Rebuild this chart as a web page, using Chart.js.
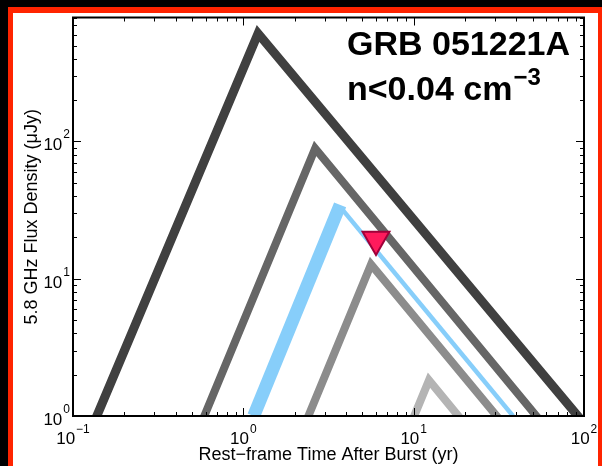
<!DOCTYPE html>
<html><head><meta charset="utf-8">
<script src="https://cdn.jsdelivr.net/npm/chart.js@4"></script>
<style>html,body{margin:0;padding:0;background:#000;}canvas{display:block;}</style>
</head><body>
<canvas id="c" width="602" height="466"></canvas>
<script>
// Model light curves (rest-frame time in yr, flux density in uJy)
const darkTime = [0.138, 1.22, 92];
const darkFlux = [1, 612, 1];
const midTime = [0.59, 2.64, 52.5];
const midFlux = [1, 89, 1];
const blueRiseTime = [1.15, 3.70];
const blueRiseFlux = [1, 34.5];
const blueDecayTime = [3.85, 38.3];
const blueDecayFlux = [31.5, 1];
const grayTime = [2.41, 5.62, 30.7];
const grayFlux = [1, 12.7, 1];
const lightTime = [10.07, 12.3, 18.3];
const lightFlux = [1, 1.82, 1];
// Upper limit
const limitTime = [6.01];
const limitFlux = [19.3];
// Axis ticks
const xTickValues = [0.1, 1, 10, 100];
const xTickExponents = ['\u22121', '0', '1', '2'];
const yTickValues = [1, 10, 100];
const yTickExponents = ['0', '1', '2'];
const titleLine1 = 'GRB 051221A';
const titleLine2 = 'n<0.04 cm';
const titleSup = '\u22123';
const xTitle = 'Rest\u2212frame Time After Burst (yr)';
const yTitle = '5.8 GHz Flux Density (\u03bcJy)';

const pts = (t, f) => t.map((v, i) => ({x: v, y: f[i]}));
const lineDs = (t, f, color, w, cap) => ({
  data: pts(t, f), showLine: true, borderColor: color, backgroundColor: color,
  borderWidth: w, pointRadius: 0, borderCapStyle: cap || 'square',
  borderJoinStyle: 'miter', clip: 0, tension: 0
});

const FONT = '"Liberation Sans", Arial, Helvetica, sans-serif';

const decor = {
  id: 'decor',
  beforeDraw(chart) {
    const ctx = chart.ctx;
    ctx.save();
    ctx.fillStyle = '#000';
    ctx.fillRect(0, 0, chart.width, chart.height);
    ctx.fillStyle = '#ff2400';
    ctx.fillRect(8, 7, chart.width - 8, chart.height - 7);
    ctx.fillStyle = '#fff';
    ctx.fillRect(13, 13, chart.width - 13 - 4, chart.height - 13);
    ctx.restore();
  },
  afterDatasetsDraw(chart) {
    const ctx = chart.ctx, a = chart.chartArea;
    const xs = chart.scales.x, ys = chart.scales.y;
    ctx.save();
    ctx.strokeStyle = '#000';
    ctx.lineWidth = 1;
    for (let d = -1; d <= 2; d++) {
      for (let m = 1; m <= 9; m++) {
        const v = m * Math.pow(10, d);
        const major = m === 1;
        const len = major ? 8 : 4;
        if (v >= 0.1 && v <= 100) {
          const px = Math.round(xs.getPixelForValue(v)) + 0.5;
          ctx.beginPath();
          ctx.moveTo(px, a.bottom); ctx.lineTo(px, a.bottom - len);
          ctx.moveTo(px, a.top); ctx.lineTo(px, a.top + len);
          ctx.stroke();
        }
        if (v >= 1 && v <= 800) {
          const py = Math.round(ys.getPixelForValue(v)) + 0.5;
          ctx.beginPath();
          ctx.moveTo(a.left, py); ctx.lineTo(a.left + len, py);
          ctx.moveTo(a.right, py); ctx.lineTo(a.right - len, py);
          ctx.stroke();
        }
      }
    }
    ctx.lineWidth = 2;
    ctx.strokeRect(a.left, a.top, a.right - a.left, a.bottom - a.top);
    ctx.restore();
  },
  afterDraw(chart) {
    const ctx = chart.ctx, a = chart.chartArea;
    const xs = chart.scales.x, ys = chart.scales.y;
    ctx.save();
    ctx.fillStyle = '#000';
    xTickValues.forEach((v, i) => {
      const px = xs.getPixelForValue(v);
      ctx.font = '17px ' + FONT;
      const w1 = ctx.measureText('10').width;
      ctx.font = '12px ' + FONT;
      const w2 = ctx.measureText(xTickExponents[i]).width;
      const x0 = px - (w1 + 1 + w2) / 2;
      ctx.textAlign = 'left'; ctx.textBaseline = 'alphabetic';
      ctx.font = '17px ' + FONT;
      ctx.fillText('10', x0, 444);
      ctx.font = '12px ' + FONT;
      ctx.fillText(xTickExponents[i], x0 + w1 + 1, 433);
    });
    yTickValues.forEach((v, i) => {
      const py = ys.getPixelForValue(v);
      ctx.font = '12px ' + FONT;
      const w2 = ctx.measureText(yTickExponents[i]).width;
      ctx.textAlign = 'right'; ctx.textBaseline = 'alphabetic';
      ctx.fillText(yTickExponents[i], 70, py - 3);
      ctx.font = '17px ' + FONT;
      ctx.fillText('10', 70 - w2 - 1, py + 9);
    });
    ctx.font = '18px ' + FONT;
    ctx.textAlign = 'center'; ctx.textBaseline = 'alphabetic';
    ctx.fillText(xTitle, (a.left + a.right) / 2, 460);
    ctx.save();
    ctx.translate(37, (a.top + a.bottom) / 2);
    ctx.rotate(-Math.PI / 2);
    ctx.fillText(yTitle, 0, 0);
    ctx.restore();
    ctx.textAlign = 'left';
    ctx.font = 'bold 34px ' + FONT;
    ctx.fillText(titleLine1, 347, 55);
    ctx.fillText(titleLine2, 347, 100);
    const w = ctx.measureText(titleLine2).width;
    ctx.font = 'bold 24px ' + FONT;
    ctx.fillText(titleSup, 347 + w + 1, 85);
    ctx.restore();
  }
};

new Chart(document.getElementById('c'), {
  type: 'scatter',
  data: {
    datasets: [
      {
        data: pts(limitTime, limitFlux), pointStyle: 'triangle', rotation: 180,
        pointRadius: 15.5, pointBackgroundColor: '#ff1a5c', pointBorderColor: '#a0003a',
        pointBorderWidth: 2, showLine: false, clip: false
      },
      lineDs(lightTime, lightFlux, '#b4b4b4', 8),
      lineDs(grayTime, grayFlux, '#8c8c8c', 8),
      lineDs(blueDecayTime, blueDecayFlux, '#87cefa', 4.5, 'butt'),
      lineDs(blueRiseTime, blueRiseFlux, '#87cefa', 13, 'butt'),
      lineDs(midTime, midFlux, '#666666', 8),
      lineDs(darkTime, darkFlux, '#404040', 9)
    ]
  },
  options: {
    responsive: false, animation: false, devicePixelRatio: 1,
    layout: {padding: {left: 73, right: 18, top: 14, bottom: 50}},
    plugins: {legend: {display: false}, tooltip: {enabled: false}},
    events: [],
    scales: {
      x: {type: 'logarithmic', min: 0.1, max: 100, display: false},
      y: {type: 'logarithmic', min: 1, max: 800, display: false}
    }
  },
  plugins: [decor]
});
</script>
</body></html>
